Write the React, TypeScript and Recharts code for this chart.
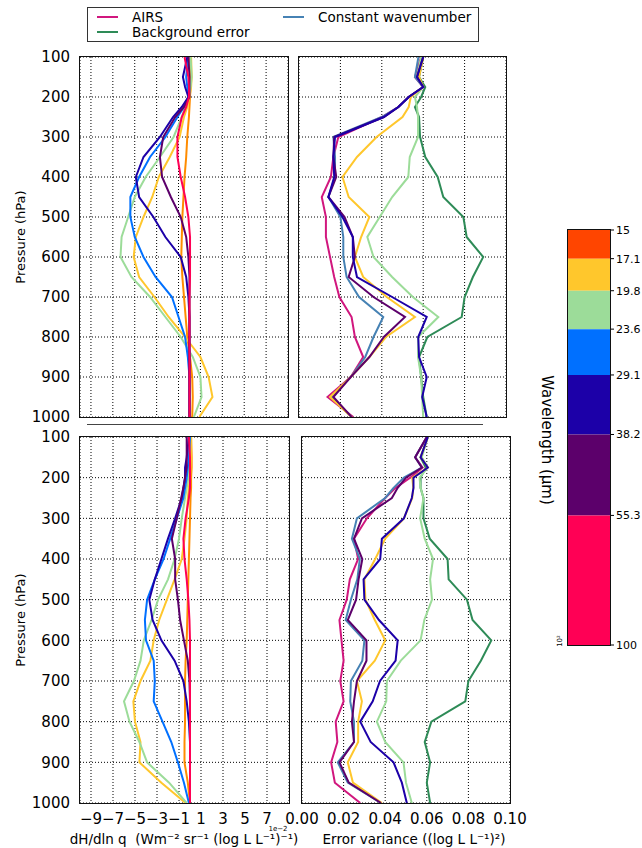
import React from 'react';
import { ScatterChart, Scatter, XAxis, YAxis, CartesianGrid, ReferenceArea } from 'recharts';

// pressure levels (hPa) shared by every profile
const levels = [100, 150, 175, 200, 225, 250, 300, 350, 400, 450, 500, 550, 600, 650, 700, 750, 800, 850, 900, 950, 1000];
const pressureTicks = [100, 200, 300, 400, 500, 600, 700, 800, 900, 1000];
const sensTicks = [-9, -7, -5, -3, -1, 1, 3, 5, 7];
const varTicks = [0, 0.02, 0.04, 0.06, 0.08, 0.1];

// wavelength bands (um) and colours
const bandEdges = [15, 17.1, 19.8, 23.6, 29.1, 38.2, 55.3, 100];
const bandColors = ['#ff4500', '#ffc72c', '#9cdc99', '#0070ff', '#1c00a8', '#5c006b', '#ff0055'];

const RED = '#ff0055';
const ORANGE = '#ff8c00';
const GOLD = '#ffc72c';
const LGREEN = '#9cdc99';
const BLUE = '#0070ff';
const NAVY = '#1c00a8';
const PURPLE = '#5c006b';
const AIRS = '#d1177e';
const CONST = '#4682b4';
const BG = '#2e8b57';

// top left: dH/dln q (x 1e-2)
const tlRed = [-0.45, -0.1, -0.05, -0.05, -0.3, -0.7, -1.1, -1.1, -0.8, -0.4, -0.1, 0.05, 0.05, 0.05, 0, 0, 0, 0, 0, 0, 0];
const tlOrange = [0.05, 0.1, 0.1, 0.05, 0, -0.05, -0.2, -0.3, -0.45, -0.55, -0.65, -0.7, -0.75, -0.65, -0.5, -0.35, -0.2, 0.05, 0.25, 0.3, 0.25];
const tlGold = [0.15, 0.2, 0.15, 0, -0.2, -0.5, -0.9, -1.8, -2.8, -3.4, -4.2, -4.9, -5.1, -4.6, -3.2, -1.9, -0.4, 1.0, 1.75, 2.1, 0.9];
const tlGreen = [0.1, 0.2, 0.1, -0.1, -0.4, -0.7, -1.45, -2.7, -4.0, -5.0, -5.6, -6.2, -6.3, -5.3, -3.6, -2.2, -0.8, 0.3, 1.0, 1.1, 0.4];
const tlBlue = [-0.1, -0.3, -0.2, -0.1, -0.5, -1.1, -2.2, -3.6, -4.6, -5.4, -5.4, -5.0, -4.2, -3.1, -1.6, -1.0, -0.4, -0.15, 0, 0, 0];
const tlNavy = [-0.2, -0.6, -0.4, -0.1, -0.7, -1.5, -2.7, -4.2, -4.9, -4.6, -3.3, -2.2, -0.8, -0.3, -0.1, 0, 0, 0, 0, 0, 0];
const tlPurple = [-0.1, 0, 0, 0, -0.5, -1.3, -2.4, -2.7, -2.5, -1.7, -0.8, -0.3, -0.1, 0, 0, 0, 0, 0, 0, 0, 0];

// top right: error variance
const trBg = [0.06, 0.058, 0.061, 0.059, 0.056, 0.058, 0.0585, 0.061, 0.067, 0.0697, 0.0794, 0.081, 0.089, 0.084, 0.08, 0.0786, 0.062, 0.058, 0.059, 0.06, 0.0617];
const trAirs = [0.059, 0.056, 0.06, 0.053, 0.048, 0.04, 0.019, 0.0166, 0.0154, 0.011, 0.013, 0.013, 0.015, 0.017, 0.0195, 0.0254, 0.027, 0.031, 0.025, 0.0138, 0.0262];
const trConst = [0.0577, 0.056, 0.06, 0.053, 0.048, 0.04, 0.0166, 0.0174, 0.0174, 0.0142, 0.02, 0.0214, 0.0214, 0.023, 0.029, 0.0407, 0.036, 0.032, 0.025, 0.0155, 0.0254];
const trGold = [0.06, 0.058, 0.06, 0.054, 0.053, 0.05, 0.0375, 0.028, 0.021, 0.024, 0.034, 0.03, 0.027, 0.031, 0.0424, 0.056, 0.042, 0.034, 0.025, 0.015, 0.0254];
const trGreen = [0.059, 0.057, 0.06, 0.056, 0.057, 0.0575, 0.0575, 0.0535, 0.0528, 0.045, 0.039, 0.033, 0.036, 0.045, 0.055, 0.0673, 0.0576, 0.0575, 0.059, 0.0595, 0.06];
const trNavy = [0.06, 0.057, 0.06, 0.053, 0.048, 0.041, 0.0174, 0.0166, 0.017, 0.0142, 0.021, 0.026, 0.026, 0.028, 0.045, 0.0617, 0.0576, 0.058, 0.0617, 0.0595, 0.0617];
const trPurple = [0.06, 0.057, 0.06, 0.053, 0.048, 0.041, 0.017, 0.0166, 0.018, 0.0142, 0.022, 0.026, 0.027, 0.024, 0.036, 0.0512, 0.041, 0.034, 0.025, 0.0166, 0.0254];

// bottom left: dH/dln q (x 1e-2)
const blRed = [-0.1, 0, 0, 0, 0, -0.1, -0.4, -0.6, -0.5, -0.3, -0.15, -0.05, 0, 0, 0, 0, 0, 0, 0, 0, 0];
const blOrange = [0.1, 0.15, 0.15, 0.1, 0.1, 0.05, 0, -0.05, -0.1, -0.15, -0.2, -0.25, -0.3, -0.4, -0.45, -0.45, -0.45, -0.5, -0.5, -0.2, 0];
const blGold = [0.1, 0.1, 0.05, 0, -0.1, -0.2, -0.3, -0.5, -0.75, -1.4, -2.1, -2.8, -3.3, -3.6, -4.5, -5.15, -5.0, -4.5, -4.6, -2.6, -0.4];
const blGreen = [0, -0.05, -0.1, -0.15, -0.3, -0.45, -0.75, -1.0, -1.4, -2.0, -2.9, -3.5, -4.2, -4.5, -5.1, -6.0, -5.5, -4.6, -3.9, -1.9, -0.3];
const blBlue = [0, -0.1, -0.2, -0.3, -0.45, -0.6, -1.2, -1.8, -2.4, -3.2, -3.9, -4.1, -4.0, -3.3, -3.2, -3.3, -2.5, -1.7, -1.1, -0.55, -0.1];
const blNavy = [-0.1, -0.3, -0.45, -0.45, -0.6, -0.75, -1.35, -2.0, -2.6, -3.2, -3.7, -3.4, -2.6, -1.4, -0.6, -0.3, -0.1, 0, 0, 0, 0];
const blPurple = [-0.3, -0.3, -0.3, -0.45, -0.6, -0.8, -1.2, -1.65, -1.35, -1.35, -1.1, -0.9, -0.55, -0.2, -0.05, 0, 0, 0, 0, 0, 0];

// bottom right: error variance
const brBg = [0.0605, 0.057, 0.0595, 0.057, 0.057, 0.0584, 0.0584, 0.0614, 0.07, 0.0705, 0.0793, 0.082, 0.091, 0.086, 0.08, 0.0785, 0.0622, 0.059, 0.0616, 0.06, 0.0616];
const brAirs = [0.06, 0.0544, 0.058, 0.052, 0.045, 0.04, 0.0312, 0.025, 0.027, 0.023, 0.0215, 0.018, 0.019, 0.02, 0.0184, 0.02, 0.0162, 0.017, 0.014, 0.0158, 0.028];
const brConst = [0.06, 0.0544, 0.0576, 0.049, 0.044, 0.04, 0.0264, 0.024, 0.0278, 0.0266, 0.0235, 0.021, 0.03, 0.029, 0.0235, 0.0232, 0.025, 0.025, 0.0172, 0.022, 0.038];
const brGold = [0.0605, 0.057, 0.0605, 0.053, 0.0535, 0.053, 0.049, 0.04, 0.0352, 0.03, 0.0305, 0.035, 0.04, 0.035, 0.0264, 0.0288, 0.027, 0.027, 0.022, 0.0245, 0.0384];
const brGreen = [0.0605, 0.0576, 0.0605, 0.0565, 0.057, 0.0584, 0.0568, 0.059, 0.063, 0.0616, 0.0625, 0.0588, 0.057, 0.0475, 0.0408, 0.0405, 0.036, 0.04, 0.0488, 0.05, 0.0528];
const brNavy = [0.0605, 0.057, 0.0605, 0.0536, 0.0536, 0.0528, 0.049, 0.0384, 0.0376, 0.0296, 0.03, 0.037, 0.046, 0.045, 0.0375, 0.034, 0.028, 0.033, 0.044, 0.048, 0.0504];
const brPurple = [0.06, 0.0544, 0.0576, 0.05, 0.046, 0.0432, 0.0288, 0.025, 0.029, 0.0272, 0.026, 0.022, 0.031, 0.031, 0.0264, 0.025, 0.024, 0.025, 0.018, 0.0225, 0.038];

type Profile = { key: string; color: string; values: number[] };
type Box = { left: number; top: number; width: number; height: number };

const toPoints = (vals: number[]) => vals.map((v, i) => ({ p: levels[i], v }));

const fmtSens = (v: number) => (v < 0 ? `\u2212${-v}` : `${v}`);
const fmtVar = (v: number) => v.toFixed(2);
const noTick = () => <g />;

const FONT = "'DejaVu Sans', sans-serif";

function Panel({
  box,
  lines,
  xDomain,
  xTicks,
  xFormat,
  xLabels,
  yLabels,
}: {
  box: Box;
  lines: Profile[];
  xDomain: [number, number];
  xTicks: number[];
  xFormat: (v: number) => string;
  xLabels: boolean;
  yLabels: boolean;
}) {
  const yw = yLabels ? 70 : 0;
  const padL = yLabels ? 0 : 22;
  const padR = 22;
  const padT = 12;
  const xh = xLabels ? 30 : 0;
  const padB = xLabels ? 0 : 12;
  return (
    <div style={{ position: 'absolute', left: box.left - yw - padL, top: box.top - padT }}>
      <ScatterChart
        width={box.width + yw + padL + padR}
        height={box.height + padT + xh + padB}
        margin={{ top: padT, right: padR, bottom: padB, left: padL }}
      >
        <CartesianGrid stroke="#000" strokeWidth={1} strokeDasharray="1 2" />
        <XAxis
          type="number"
          dataKey="v"
          domain={xDomain}
          ticks={xTicks}
          interval={0}
          height={xh}
          axisLine={false}
          tickLine={false}
          tickMargin={4}
          tick={xLabels ? { fill: '#000', fontSize: 15 } : noTick}
          tickFormatter={xFormat}
          allowDataOverflow
        />
        <YAxis
          type="number"
          dataKey="p"
          domain={[100, 1000]}
          ticks={pressureTicks}
          interval={0}
          reversed
          width={yw}
          axisLine={false}
          tickLine={false}
          tickMargin={4}
          tick={yLabels ? { fill: '#000', fontSize: 15 } : noTick}
          allowDataOverflow
        />
        {lines.map((l) => (
          <Scatter
            key={l.key}
            name={l.key}
            data={toPoints(l.values)}
            fill={l.color}
            line={{ stroke: l.color, strokeWidth: 2 }}
            lineType="joint"
            shape={noTick}
            isAnimationActive={false}
          />
        ))}
      </ScatterChart>
      <div
        style={{
          position: 'absolute',
          left: yw + padL - 0.75,
          top: padT - 0.75,
          width: box.width + 1.5,
          height: box.height + 1.5,
          border: '1.5px solid #111',
          boxSizing: 'border-box',
          pointerEvents: 'none',
        }}
      />
    </div>
  );
}

function ColorBar() {
  const box = { left: 568, top: 230, width: 42, height: 415 };
  const pad = 8;
  return (
    <div style={{ position: 'absolute', left: box.left, top: box.top - pad }}>
      <ScatterChart width={box.width + 32} height={box.height + 2 * pad} margin={{ top: pad, right: 0, bottom: pad, left: 0 }}>
        <XAxis type="number" dataKey="x" domain={[0, 1]} hide allowDataOverflow />
        <YAxis
          type="number"
          dataKey="w"
          scale="log"
          domain={[15, 100]}
          ticks={bandEdges}
          interval={0}
          reversed
          orientation="right"
          width={32}
          axisLine={false}
          tickSize={4}
          tickMargin={2}
          tickLine={{ stroke: '#000' }}
          tick={{ fill: '#000', fontSize: 11 }}
          allowDataOverflow
        />
        {bandColors.map((c, i) => (
          <ReferenceArea
            key={c}
            x1={0}
            x2={1}
            y1={bandEdges[i]}
            y2={bandEdges[i + 1]}
            fill={c}
            fillOpacity={1}
            stroke="none"
            ifOverflow="visible"
          />
        ))}
      </ScatterChart>
      <div
        style={{
          position: 'absolute',
          left: -0.75,
          top: pad - 0.75,
          width: box.width + 1.5,
          height: box.height + 1.5,
          border: '1.5px solid #111',
          boxSizing: 'border-box',
        }}
      />
    </div>
  );
}

const legendItems = [
  { label: 'AIRS', color: AIRS, x: 9, y: 9 },
  { label: 'Background error', color: BG, x: 9, y: 24 },
  { label: 'Constant wavenumber', color: CONST, x: 195, y: 9 },
];

function Legend() {
  return (
    <div
      style={{
        position: 'absolute',
        left: 87,
        top: 7,
        width: 392,
        height: 35,
        border: '1.2px solid #333',
        boxSizing: 'border-box',
        background: '#fff',
      }}
    >
      {legendItems.map((it) => (
        <React.Fragment key={it.label}>
          <div style={{ position: 'absolute', left: it.x, top: it.y - 1, width: 21, height: 2, background: it.color }} />
          <div style={{ position: 'absolute', left: it.x + 35, top: it.y - 9, fontSize: 13.5, lineHeight: '18px', whiteSpace: 'nowrap' }}>
            {it.label}
          </div>
        </React.Fragment>
      ))}
    </div>
  );
}

function Label({ x, y, text, size, rotate = 0 }: { x: number; y: number; text: string; size: number; rotate?: number }) {
  return (
    <div
      style={{
        position: 'absolute',
        left: x,
        top: y,
        transform: `translate(-50%, -50%) rotate(${rotate}deg)`,
        fontSize: size,
        whiteSpace: 'pre',
        lineHeight: 1,
      }}
    >
      {text}
    </div>
  );
}

const sensDomain: [number, number] = [-10, 9];
const varDomain: [number, number] = [0, 0.1];

export default function App() {
  const tl: Profile[] = [
    { key: 'orange', color: ORANGE, values: tlOrange },
    { key: 'gold', color: GOLD, values: tlGold },
    { key: 'green', color: LGREEN, values: tlGreen },
    { key: 'blue', color: BLUE, values: tlBlue },
    { key: 'navy', color: NAVY, values: tlNavy },
    { key: 'purple', color: PURPLE, values: tlPurple },
    { key: 'red', color: RED, values: tlRed },
  ];
  const tr: Profile[] = [
    { key: 'bg', color: BG, values: trBg },
    { key: 'airs', color: AIRS, values: trAirs },
    { key: 'const', color: CONST, values: trConst },
    { key: 'green', color: LGREEN, values: trGreen },
    { key: 'gold', color: GOLD, values: trGold },
    { key: 'purple', color: PURPLE, values: trPurple },
    { key: 'navy', color: NAVY, values: trNavy },
  ];
  const bl: Profile[] = [
    { key: 'orange', color: ORANGE, values: blOrange },
    { key: 'gold', color: GOLD, values: blGold },
    { key: 'green', color: LGREEN, values: blGreen },
    { key: 'blue', color: BLUE, values: blBlue },
    { key: 'navy', color: NAVY, values: blNavy },
    { key: 'purple', color: PURPLE, values: blPurple },
    { key: 'red', color: RED, values: blRed },
  ];
  const br: Profile[] = [
    { key: 'bg', color: BG, values: brBg },
    { key: 'green', color: LGREEN, values: brGreen },
    { key: 'airs', color: AIRS, values: brAirs },
    { key: 'const', color: CONST, values: brConst },
    { key: 'gold', color: GOLD, values: brGold },
    { key: 'purple', color: PURPLE, values: brPurple },
    { key: 'navy', color: NAVY, values: brNavy },
  ];

  return (
    <div
      style={{
        position: 'absolute',
        left: 0,
        top: 0,
        width: 642,
        height: 848,
        overflow: 'hidden',
        background: '#fff',
        fontFamily: FONT,
        color: '#000',
      }}
    >
      <Legend />
      <Panel box={{ left: 80, top: 57, width: 208, height: 360 }} lines={tl} xDomain={sensDomain} xTicks={sensTicks} xFormat={fmtSens} xLabels={false} yLabels />
      <Panel box={{ left: 299, top: 57, width: 207, height: 360 }} lines={tr} xDomain={varDomain} xTicks={varTicks} xFormat={fmtVar} xLabels={false} yLabels={false} />
      <div style={{ position: 'absolute', left: 87, top: 424, width: 396, borderTop: '1.5px solid #444' }} />
      <Panel box={{ left: 80, top: 437, width: 209, height: 366 }} lines={bl} xDomain={sensDomain} xTicks={sensTicks} xFormat={fmtSens} xLabels yLabels />
      <Panel box={{ left: 302, top: 437, width: 208, height: 366 }} lines={br} xDomain={varDomain} xTicks={varTicks} xFormat={fmtVar} xLabels yLabels={false} />
      <ColorBar />
      <Label x={20} y={237} text="Pressure (hPa)" size={13} rotate={-90} />
      <Label x={20} y={620} text="Pressure (hPa)" size={13} rotate={-90} />
      <Label x={184} y={840} text={'dH/dln q  (Wm\u207b\u00b2 sr\u207b\u00b9 (log L L\u207b\u00b9)\u207b\u00b9)'} size={13.5} />
      <Label x={414} y={840} text={'Error variance ((log L L\u207b\u00b9)\u00b2)'} size={13.5} />
      <Label x={278} y={829} text={'1e\u22122'} size={7} />
      <Label x={546} y={440} text={'Wavelength (\u03bcm)'} size={15} rotate={90} />
      <Label x={560} y={641} text={'10\u00b2'} size={7} rotate={-90} />
    </div>
  );
}
